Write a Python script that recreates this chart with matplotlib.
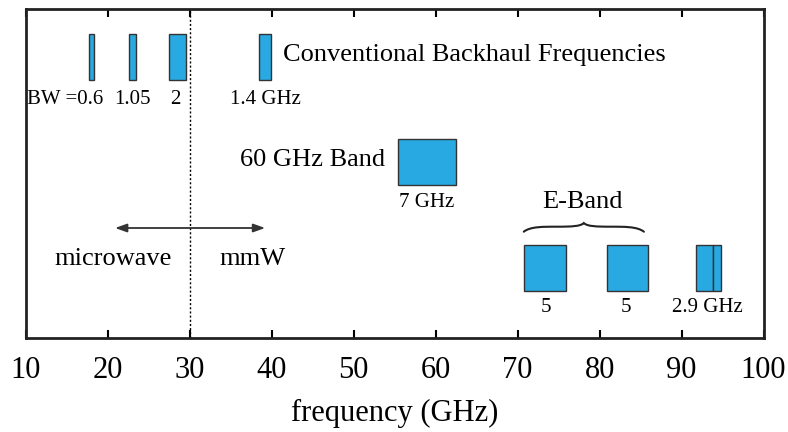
import matplotlib
matplotlib.use("Agg")
import matplotlib.pyplot as plt
from matplotlib.patches import Rectangle, PathPatch
from matplotlib.path import Path

plt.rcParams['font.family'] = ['Liberation Serif', 'DejaVu Serif']

# ---- data (GHz) ----
conv_centers = [18.0, 23.0, 28.5, 39.2]
conv_widths = [0.6, 0.8, 2.0, 1.4]
conv_labels = ["BW =0.6", "1.05", "2", "1.4 GHz"]
conv_label_x = [14.8, 23.0, 28.3, 39.3]

v_center = 58.95
v_width = 7.1
v_label = "7 GHz"

e_starts = [70.8, 80.85, 91.8, 93.8]
e_widths = [5.05, 5.0, 2.0, 1.0]
e_labels = ["5", "5", "2.9 GHz"]
e_label_x = [73.5, 83.2, 93.2]

ticks = [10, 20, 30, 40, 50, 60, 70, 80, 90, 100]
boundary = 30

face = '#29A9E1'
edge = '#333333'

fig = plt.figure(figsize=(7.88, 4.32), dpi=100)
ax = fig.add_axes([0.0326, 0.2176, 0.9364, 0.7627])
ax.set_xlim(10, 100)
ax.set_ylim(0, 329.5)

# conventional bars
for c, w in zip(conv_centers, conv_widths):
    ax.add_patch(Rectangle((c - w / 2, 258), w, 46, facecolor=face, edgecolor=edge, lw=1.0, zorder=3))
for s, x in zip(conv_labels, conv_label_x):
    ax.text(x, 239, s, ha='center', va='center', fontsize=15)
ax.text(41.4, 283, "Conventional Backhaul Frequencies", ha='left', va='center', fontsize=19)

# 60 GHz band
ax.add_patch(Rectangle((v_center - v_width / 2, 152.7), v_width, 46, facecolor=face, edgecolor=edge, lw=1.0, zorder=3))
ax.text(53.9, 178, "60 GHz Band", ha='right', va='center', fontsize=19)
ax.text(v_center, 136, v_label, ha='center', va='center', fontsize=15)

# E-band
for s, w in zip(e_starts, e_widths):
    ax.add_patch(Rectangle((s, 47.3), w, 45.7, facecolor=face, edgecolor=edge, lw=1.0, zorder=3))
for s, x in zip(e_labels, e_label_x):
    ax.text(x, 30, s, ha='center', va='center', fontsize=15)
ax.text(77.96, 136, "E-Band", ha='center', va='center', fontsize=19)

# brace
x0, x1 = 70.75, 85.4
xm = (x0 + x1) / 2
yb, ya, yp = 106.3, 111.3, 115.0
verts = [(x0, yb),
         (x0 + 0.8, ya + 0.3), (x0 + 2.5, ya), (x0 + 4.0, ya),
         (xm - 1.5, ya), (xm - 0.4, ya + 0.3), (xm, yp),
         (xm + 0.4, ya + 0.3), (xm + 1.5, ya), (x1 - 4.0, ya),
         (x1 - 2.5, ya), (x1 - 0.8, ya + 0.3), (x1, yb)]
codes = [Path.MOVETO] + [Path.CURVE4] * 12
ax.add_patch(PathPatch(Path(verts, codes), facecolor='none', edgecolor='#222222', lw=1.5, capstyle='round'))

# boundary and arrow
ax.axvline(boundary, color='black', ls=(0, (1.5, 1.5)), lw=1.0, zorder=1)
ax.annotate("", xy=(20.9, 110), xytext=(39.2, 110),
            arrowprops=dict(arrowstyle='<|-|>,head_length=0.7,head_width=0.25',
                            color='#333333', lw=1.3, shrinkA=0, shrinkB=0))
ax.text(20.6, 79, "microwave", ha='center', va='center', fontsize=19)
ax.text(37.6, 79, "mmW", ha='center', va='center', fontsize=19)

# axes styling
ax.set_xticks(ticks)
ax.set_xticklabels([str(t) for t in ticks], fontsize=22)
ax.set_yticks([])
ax.tick_params(axis='x', direction='in', top=True, length=6, width=1.5, pad=13)
for sp in ax.spines.values():
    sp.set_linewidth(2.0)
    sp.set_color('#222222')
ax.set_xlabel("frequency (GHz)", fontsize=22, labelpad=10)

fig.savefig("out.png", dpi=100)
